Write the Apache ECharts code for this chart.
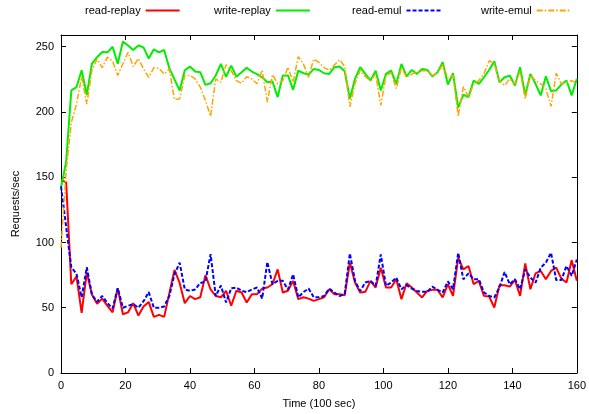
<!DOCTYPE html>
<html><head><meta charset="utf-8">
<script src="https://cdn.jsdelivr.net/npm/echarts@6/dist/echarts.min.js"></script>
<style>html,body{margin:0;padding:0;background:#fff}#c{width:589px;height:414px}</style>
</head><body><div id="c"></div>
<script>
const times = [0,1.6,3.2,4.8,6.4,8,9.6,11.2,12.8,14.4,16,17.6,19.2,20.8,22.4,24,25.6,27.2,28.8,30.4,32,33.6,35.2,36.8,38.4,40,41.6,43.2,44.8,46.4,48,49.6,51.2,52.8,54.4,56,57.6,59.2,60.8,62.4,64,65.6,67.2,68.8,70.4,72,73.6,75.2,76.8,78.4,80,81.6,83.2,84.8,86.4,88,89.6,91.2,92.8,94.4,96,97.6,99.2,100.8,102.4,104,105.6,107.2,108.8,110.4,112,113.6,115.2,116.8,118.4,120,121.6,123.2,124.8,126.4,128,129.6,131.2,132.8,134.4,136,137.6,139.2,140.8,142.4,144,145.6,147.2,148.8,150.4,152,153.6,155.2,156.8,158.4,160];

const readReplay = [148,146,68,74,46,77,60,53,57,51.5,46.5,65,45,46.5,53.5,44,51,54.5,43,44.5,43,61,79,69,53.5,
59,56.6,58,75,64,59,58,63,51.5,63,61.7,54,60.4,60.4,64.7,65.5,68,79.4,61.7,63,70.6,56.6,58,57,55.3,
56.6,58,64.2,60.4,60.4,59.6,84.5,69.3,61.7,62.2,70.6,65.5,80.7,65.5,65.5,71.8,56.6,68.8,65.5,61.7,57.9,62.9,63.7,63.7,57.9,
68,59.1,88.3,79.4,82,68,70.6,59.1,58.6,50.2,67.3,67.3,66.2,71.3,59.1,84,64.2,76.4,78.2,71.8,78.2,80.7,72.3,69.3,86.5,70.6];

const writeReplay = [142,162,216.5,219,232,213,237,242,246,245.7,250,237,254,251,247.5,251,249.5,241,248,245.7,247.5,233.5,225,216.5,232,
234.8,231,230.5,220.8,222,228,236.8,227,235.5,227,230.5,233.8,231,229,226.6,222.8,223.4,211.4,228,228,217,231.7,229.7,228.7,233,
232.2,229.7,229.2,234.3,234.8,231.2,210.2,225.4,234.3,229.2,224.1,231.7,216.5,229.2,231.7,221.6,236.8,227.2,232.2,229.2,233,232.2,227.2,230.5,238.1,
221,229.7,203.3,213.2,211.4,224.1,221.6,226.6,232.2,238.8,222.8,226.6,227.9,220.3,234.3,212.7,229.2,221.6,212.7,227.4,216,216.5,221,224.1,212.7,225.4];

const readEmul = [143,112,81,76,58,81,60,54.6,59,53.5,49.5,65,50,51.5,52.8,50,55,62,50,50,51,59,75.6,84.5,64,
63,64,69,70,91,59,67,54,65,65.5,63,62,64,65.5,57,85,68,70.6,70.6,64,75.6,58,62,64.7,58,
58,59,64.7,61.7,59,60.4,91.6,70.6,62.9,69.3,70.6,66.8,90.9,66.8,69.3,73.1,64.2,67.3,64.7,62.9,62.2,62.2,66.2,63.7,61.7,
70.2,64.2,92.1,71.8,76.4,71.8,71.8,61.7,59.1,57.9,65.5,77.4,68,71.8,64.2,79.4,73.1,69.3,80.7,84.5,92.1,71.3,71.3,82,74.4,87];

const writeEmul = [96,155,192,206,227,206,232,240.6,234,242,239,228,237,245.7,234.8,241,233,226.6,234,233.5,229,233,209.6,210,228,
228,225.4,219,209,196.7,225.4,222.8,236.3,231.7,224,222,227,225.4,221.6,232,207.6,228.7,221.6,224,234.3,222.8,242.4,236.8,226.6,240.6,
238,234,232,236,240,235,204,222,232,227,224,229,205,228,230,218,234,226.6,229,230.5,231.7,231.7,228,229.7,236.3,
226,228,196.7,219.5,211.4,221.6,224.1,229.2,239.3,236.8,224.1,220.3,225.4,221.6,231.2,210.2,228,224.1,221.6,217.8,204.3,229.7,221.6,222.8,224,222];

const seriesNames = ['read-replay','write-replay','read-emul','write-emul'];
const xTicks = {min:0, max:160, interval:20};
const yTicks = {min:0, max:259, interval:50};

const pair = arr => arr.map((v,i)=>[times[i], v]);
const font = 'Liberation Sans, Arial, sans-serif';

const chart = echarts.init(document.getElementById('c'), null, {renderer:'canvas'});
const axisCommon = {
  axisLine:{show:true, onZero:false, lineStyle:{color:'#000', width:1}},
  axisTick:{show:true, inside:true, length:5, lineStyle:{color:'#000'}},
  splitLine:{show:false}
};
const lg = (name, left) => ({
  data:[name], left:left, top:0, align:'right', itemWidth:34, itemHeight:10,
  itemStyle:{opacity:0, borderWidth:0},
  textStyle:{fontFamily:font, fontSize:11, color:'#000'}, selectedMode:false
});
chart.setOption({
  animation:false,
  backgroundColor:'#fff',
  textStyle:{fontFamily:font},
  legend:[lg(seriesNames[0],80), lg(seriesNames[1],209), lg(seriesNames[2],347), lg(seriesNames[3],476)],
  grid:{left:61, right:11, top:35, bottom:37, containLabel:false},
  xAxis:[
    Object.assign({type:'value', position:'bottom', min:xTicks.min, max:xTicks.max, interval:xTicks.interval,
      name:'Time (100 sec)', nameLocation:'middle', nameGap:25,
      nameTextStyle:{fontFamily:font, fontSize:11, color:'#000'},
      axisLabel:{fontFamily:font, fontSize:11, color:'#000', margin:7}}, axisCommon),
    Object.assign({type:'value', position:'top', min:xTicks.min, max:xTicks.max, interval:xTicks.interval,
      axisLabel:{show:false}}, axisCommon)
  ],
  yAxis:[
    Object.assign({type:'value', position:'left', min:yTicks.min, max:yTicks.max, interval:yTicks.interval,
      name:'Requests/sec', nameLocation:'middle', nameGap:40, nameRotate:90,
      nameTextStyle:{fontFamily:font, fontSize:11, color:'#000'},
      axisLabel:{fontFamily:font, fontSize:11, color:'#000', margin:7, showMaxLabel:false}}, axisCommon),
    Object.assign({type:'value', position:'right', min:yTicks.min, max:yTicks.max, interval:yTicks.interval,
      axisLabel:{show:false}}, axisCommon)
  ],
  series:[
    {name:seriesNames[0], type:'line', data:pair(readReplay), showSymbol:false, symbol:'none',
      lineStyle:{color:'#ff0000', width:2}, itemStyle:{color:'#ff0000'}},
    {name:seriesNames[1], type:'line', data:pair(writeReplay), showSymbol:false, symbol:'none',
      lineStyle:{color:'#00ee00', width:2}, itemStyle:{color:'#00ee00'}},
    {name:seriesNames[2], type:'line', data:pair(readEmul), showSymbol:false, symbol:'none',
      lineStyle:{color:'#0000ff', width:2, type:[4,2]}, itemStyle:{color:'#0000ff'}},
    {name:seriesNames[3], type:'line', data:pair(writeEmul), showSymbol:false, symbol:'none',
      lineStyle:{color:'#ffa500', width:1.5, type:[6,2,1.5,2]}, itemStyle:{color:'#ffa500'}}
  ]
});
</script></body></html>
